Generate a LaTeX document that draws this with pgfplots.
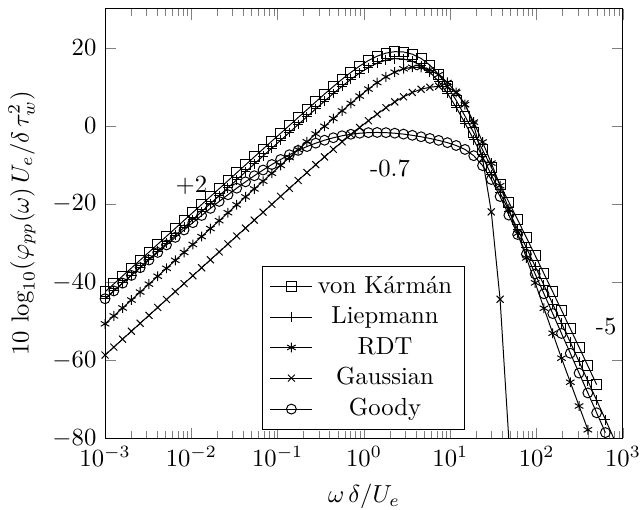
\documentclass[border=0pt]{standalone}
\usepackage{pgfplots}
\usepackage{pgfplotstable}
\pgfplotsset{compat=1.18}

% 10 log10 of the normalised wall-pressure spectrum, 60 log-spaced frequencies
\pgfplotstableread{
x        vk      liep    rdt     gauss   goody
1.000e-3 -42.50  -44.30  -50.70  -58.70  -44.27
1.264e-3 -40.47  -42.27  -48.67  -56.67  -42.27
1.597e-3 -38.43  -40.23  -46.63  -54.63  -40.27
2.019e-3 -36.40  -38.20  -44.60  -52.60  -38.29
2.551e-3 -34.36  -36.16  -42.56  -50.56  -36.32
3.224e-3 -32.33  -34.13  -40.53  -48.53  -34.35
4.075e-3 -30.30  -32.10  -38.50  -46.50  -32.40
5.150e-3 -28.26  -30.06  -36.46  -44.46  -30.47
6.509e-3 -26.23  -28.03  -34.43  -42.43  -28.54
8.227e-3 -24.19  -25.99  -32.39  -40.39  -26.64
1.040e-2 -22.16  -23.96  -30.36  -38.36  -24.77
1.314e-2 -20.13  -21.93  -28.33  -36.33  -22.93
1.661e-2 -18.09  -19.89  -26.29  -34.29  -21.11
2.099e-2 -16.06  -17.86  -24.26  -32.26  -19.33
2.653e-2 -14.03  -15.83  -22.23  -30.23  -17.61
3.352e-2 -11.99  -13.79  -20.19  -28.19  -15.93
4.237e-2  -9.96  -11.76  -18.16  -26.16  -14.31
5.355e-2  -7.92   -9.72  -16.12  -24.12  -12.75
6.767e-2  -5.89   -7.69  -14.14  -22.09  -11.27
8.553e-2  -3.86   -5.66  -12.12  -20.06   -9.87
1.081e-1  -1.87   -3.67  -10.09  -18.02   -8.57
1.366e-1   0.14   -1.66   -8.07  -15.99   -7.36
1.727e-1   2.18    0.38   -6.05  -13.95   -6.25
2.182e-1   4.18    2.38   -4.04  -11.92   -5.26
2.758e-1   6.19    4.39   -2.03   -9.90   -4.39
3.485e-1   8.19    6.39   -0.07   -7.92   -3.64
4.405e-1  10.12    8.32    1.92   -5.96   -3.01
5.567e-1  11.99   10.19    3.88   -4.05   -2.50
7.036e-1  13.75   11.95    5.81   -2.19   -2.11
8.892e-1  15.37   13.57    7.68   -0.38   -1.85
1.124     16.78   14.98    9.47    1.37   -1.69
1.420     17.90   16.10   11.13    3.06   -1.65
1.795     18.69   16.89   12.60    4.69   -1.70
2.269     19.06   17.26   13.81    6.18   -1.84
2.867     18.98   17.18   14.67    7.49   -2.07
3.624     18.42   16.62   15.07    8.60   -2.38
4.580     17.32   15.52   14.99    9.43   -2.75
5.788     15.61   13.81   14.38    9.94   -3.18
7.315     13.23   11.43   13.15   10.19   -3.68
9.245     10.19    8.39   11.18   10.07   -4.26
11.68      6.59    4.79    8.60    8.66   -4.99
14.77      2.55    0.75    5.50    5.69   -6.00
18.66     -1.72   -3.52    1.00    0.32   -7.60
23.59     -6.09   -7.89   -4.10   -8.34  -10.14
29.81    -10.53  -12.46   -9.50  -22.00  -13.70
37.68    -15.00  -17.10  -15.30  -44.40  -18.06
47.62    -19.50  -21.78  -21.30  -80.50  -22.84
60.18    -24.02  -26.47  -27.50     nan  -27.80
76.06    -28.59  -31.22  -33.80     nan  -32.85
96.12    -33.19  -35.99  -40.20     nan  -37.92
121.5    -37.82  -40.80  -46.70     nan  -42.99
153.5    -42.49  -45.64  -53.10     nan  -48.07
194.0    -47.20  -50.53  -59.50     nan  -53.16
245.2    -51.93  -55.43  -65.66     nan  -58.24
309.9    -56.69  -60.37  -71.76     nan  -63.33
391.7    -61.47  -65.32  -77.86     nan  -68.41
495.0    -66.27  -70.30     nan     nan  -73.50
625.7       nan  -75.24     nan     nan  -78.58
790.7       nan  -80.30     nan     nan     nan
}\spectra

\begin{document}
\begin{tikzpicture}
% page frame as in the original figure (the 10^3 label runs off the right edge)
\useasboundingbox (-42.6pt,-28.8pt) rectangle (217.3pt,177.65pt);
\begin{semilogxaxis}[
  scale only axis,
  width=210pt,
  height=174pt,
  xmin=1e-3, xmax=1e3,
  ymin=-80, ymax=30,
  ytick={-80,-60,-40,-20,0,20},
  xlabel={$\omega\,\delta/U_e$},
  ylabel={$10\,\log_{10}(\varphi_{pp}(\omega)\,U_e/\delta\,\tau_w^2)$},
  legend cell align=center,
  legend style={at={(0.499,0.019)},anchor=south},
]
\addplot[black, mark=square] table[x=x,y=vk] {\spectra};
\addlegendentry{von Kármán}
\addplot[black, mark=+] table[x=x,y=liep] {\spectra};
\addlegendentry{Liepmann}
\addplot[black, mark=asterisk] table[x=x,y=rdt] {\spectra};
\addlegendentry{RDT}
\addplot[black, mark=x] table[x=x,y=gauss] {\spectra};
\addlegendentry{Gaussian}
\addplot[black, mark=o] table[x=x,y=goody] {\spectra};
\addlegendentry{Goody}
\node at (axis cs:1e-2,-15.3) {+2};
\node at (axis cs:2.0,-10.8) {-0.7};
\node at (axis cs:640,-51.3) {-5};
\end{semilogxaxis}
\end{tikzpicture}
\end{document}
